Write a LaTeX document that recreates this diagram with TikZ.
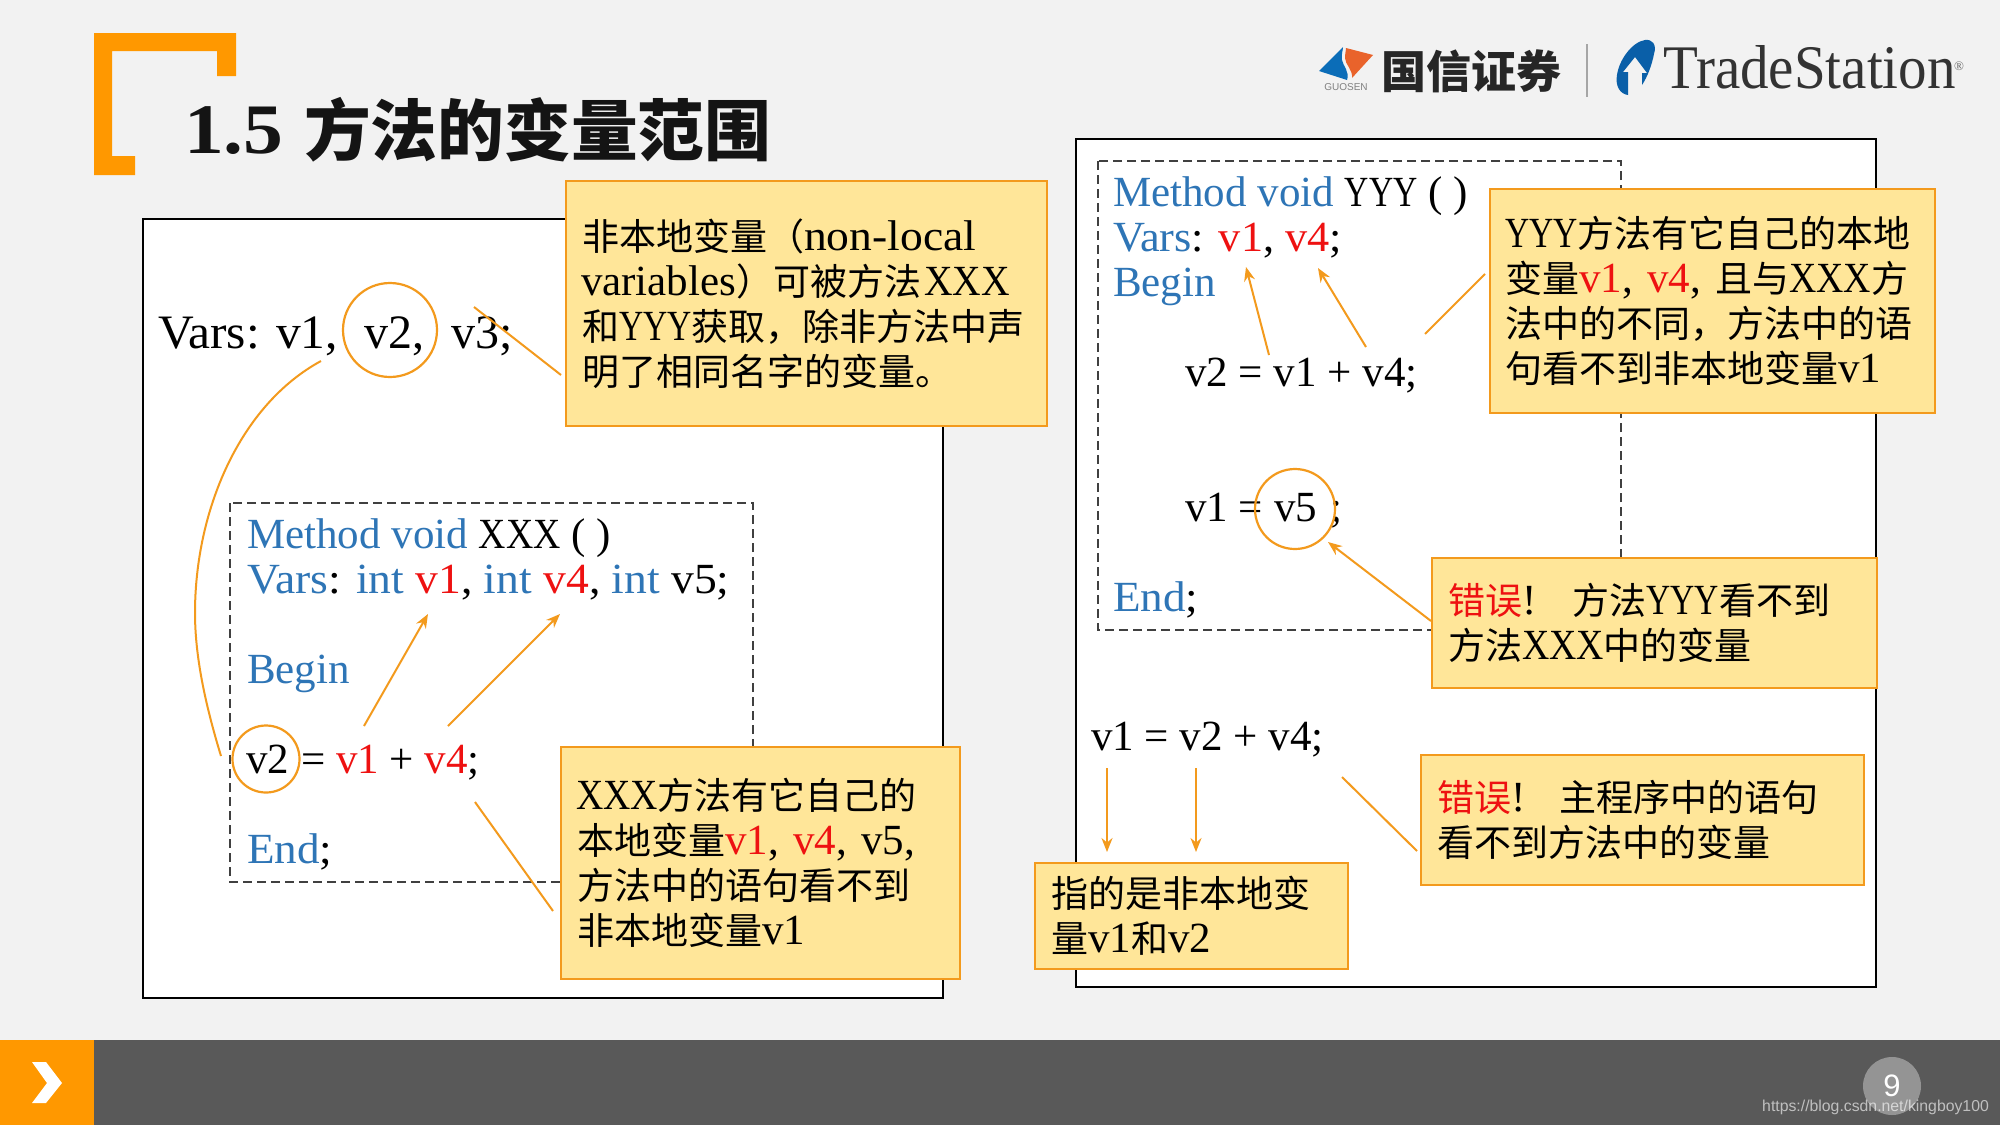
\documentclass[tikz,border=0pt]{standalone}
\usepackage{fontspec}
\usetikzlibrary{arrows.meta}
\setmainfont{Liberation Serif}
\newfontfamily\cjkbase{Noto Sans CJK SC}
\newfontfamily\lib{Liberation Sans}
\definecolor{bgc}{HTML}{F2F2F2}
\definecolor{org}{HTML}{FF9800}
\definecolor{lin}{HTML}{F39A1D}
\definecolor{cfill}{HTML}{FFE699}
\definecolor{kw}{HTML}{2E75B6}
\definecolor{rd}{HTML}{EE1111}
\definecolor{dk}{HTML}{404040}
\definecolor{lgb}{HTML}{0B6DB8}
\definecolor{lgo}{HTML}{E9632B}
\definecolor{lgt}{HTML}{0A5FA8}
\newcommand{\fs}[2]{\fontsize{#1}{#2}\selectfont}
\newcommand{\zh}[1]{{\cjkbase\fs{37}{45}#1}}
\newcommand{\kw}[1]{\textcolor{kw}{#1}}
\newcommand{\rd}[1]{\textcolor{rd}{#1}}
\newcommand{\tri}[1]{\scalebox{.88}[1]{#1}}
\newcommand{\trj}[1]{\scalebox{.78}[1]{#1}}
\tikzset{
  panel/.style={draw=black,line width=2pt,fill=white},
  dashbox/.style={draw=dk,line width=1.6pt,dash pattern=on 9pt off 5pt},
  code/.style={anchor=base west,inner sep=0pt,font=\fs{43}{46}},
  big/.style={anchor=base west,inner sep=0pt,font=\fs{48}{50}},
  ring/.style={draw=lin,line width=2.2pt,circle,inner sep=0pt},
  conn/.style={draw=lin,line width=2pt},
  arr/.style={conn,-{Stealth[length=14pt,width=11pt]}},
  callout/.style={draw=lin,line width=2pt,fill=cfill,anchor=north west,align=left,
    font=\fs{43}{45},inner xsep=0pt,inner ysep=0pt},
}
\begin{document}
\begin{tikzpicture}[x=1pt,y=-1pt]
\useasboundingbox (0,0) rectangle (2000,1125);
\fill[bgc] (0,0) rectangle (2000,1125);
% bracket
\fill[org] (94,33)--(236,33)--(236,76)--(217,76)--(217,51)--(112,51)--(112,156)--(135,156)--(135,175)--(94,175)--cycle;
\node[anchor=base west,inner sep=0pt,font=\fs{71}{72}\bfseries,text=black!92] (titlea) at (184,153) {\scalebox{1.12}[1]{1.5}};
\node[anchor=base west,inner sep=0pt,font=\cjkbase\fs{66.7}{70}\bfseries,text=black!92] (titleb) at (304,155) {方法的变量范围};
% logo
\fill[lgb] (1343,47)--(1319,71)--(1347,80) .. controls (1350,72) and (1343,66) .. (1342,60) .. controls (1341,55) and (1343,50) .. (1343,47)--cycle;
\fill[lgo] (1346,48)--(1373,55)--(1352,78) .. controls (1353,70) and (1345,64) .. (1345,58) .. controls (1345,54) and (1346,50) .. (1346,48)--cycle;
\node[inner sep=0pt,font=\lib\fs{10}{10},text=black!50] (gs) at (1346,87) {GUOSEN};
\node[inner sep=0pt,anchor=west,font=\cjkbase\bfseries\fs{45}{46},text=black!85] (gx) at (1381,71) {国信证券};
\draw[black!35,line width=1.5pt] (1587,44) -- (1587,97);
\fill[lgt] (1645,40) .. controls (1652,39) and (1657,44) .. (1654,54) .. controls (1652,64) and (1648,76) .. (1642,85) -- (1642,73) -- (1647,73) -- (1635,57) -- (1623,72) -- (1628,72) -- (1628,95) .. controls (1620,94) and (1615,86) .. (1617,75) .. controls (1619,60) and (1632,42) .. (1645,40) -- cycle;
\node[anchor=base west,inner sep=0pt,font=\fs{62}{64},text=black!80] (ts) at (1663,88) {\scalebox{0.92}[1]{TradeStation}};
\node[anchor=center,inner sep=0pt,font=\fs{13}{13},text=black!60] (reg) at (1959,66) {®};
% footer
\fill[black!65] (0,1040) rectangle (2000,1125);
\fill[org] (0,1040) rectangle (94,1125);
\fill[white] (32,1062)--(46,1062)--(62,1083)--(46,1103)--(32,1103)--(47,1083)--cycle;
\fill[black!42] (1892,1086) circle (29);
\node[inner sep=0pt,font=\lib\fs{31}{32},text=white] (pg) at (1892,1086) {9};
\node[anchor=base west,inner sep=0pt,font=\lib\fs{15.8}{18},text=white,opacity=.62] (url) at (1762,1111) {https://blog.csdn.net/kingboy100};
% left panel
\draw[panel] (143,219) rectangle (943,998);
\node[big] (v1a) at (158,348) {\scalebox{1.03}[1]{Vars: v1,}};
\node[big] (v2a) at (364,348) {v2,};
\node[big] (v3a) at (451,348) {v3;};
\node[ring,minimum size=94pt] (r1) at (390,330) {};
\draw[dashbox] (230,503) rectangle (753,882);
\node[code] (l1) at (247,548) {\kw{Method void} \tri{XXX} ( )};
\node[code] (l2) at (247,593) {\scalebox{1.06}[1]{\kw{Vars}: \kw{int} \rd{v1}, \kw{int} \rd{v4}, \kw{int} v5;}};
\node[code] (l3) at (247,683) {\kw{Begin}};
\node[code] (l4) at (246,773) {v2};
\node[code] (l5) at (301,773) {= \rd{v1} + \rd{v4};};
\node[code] (l6) at (247,863) {\scalebox{1.05}[1]{\kw{End};}};
\node[ring,minimum size=67pt] (r2) at (266,759) {};
\coordinate (cs) at (321,361);\coordinate (ce) at (221,756);
\draw[conn] (cs) .. controls (240,405) and (195,510) .. (195,613) .. controls (195,660) and (207,710) .. (ce);
\coordinate (a1s) at (364,726);\coordinate (a1e) at (428,614);
\coordinate (a2s) at (448,726);\coordinate (a2e) at (560,614);
\draw[arr] (a1s) -- (a1e);
\draw[arr] (a2s) -- (a2e);
\coordinate (b1s) at (474,307);\coordinate (b1e) at (561,375);
\draw[conn] (b1s) -- (b1e);
\coordinate (b2s) at (475,802);\coordinate (b2e) at (553,911);
\draw[conn] (b2s) -- (b2e);
% right panel
\draw[panel] (1076,139) rectangle (1876,987);
\draw[dashbox] (1098,161) rectangle (1621,630);
\node[code] (r1l) at (1113,206) {\kw{Method void} \trj{YYY} ( )};
\node[code] (r2l) at (1113,251) {\scalebox{1.03}[1]{\kw{Vars}: \rd{v1}, \rd{v4};}};
\node[code] (r3l) at (1113,296) {\kw{Begin}};
\node[code] (r4l) at (1185,386) {v2 = v1 + v4;};
\node[code] (r5l) at (1185,521) {v1 =};
\node[code] (r6l) at (1274,521) {v5};
\node[code] (r7l) at (1330,521) {;};
\node[code] (r8l) at (1113,611) {\scalebox{1.05}[1]{\kw{End};}};
\node[ring,minimum size=80pt] (r3) at (1295,509) {};
\node[code] (r9l) at (1091,750) {v1 = v2 + v4;};
\coordinate (c1s) at (1269,355);\coordinate (c1e) at (1246,267);
\coordinate (c2s) at (1366,347);\coordinate (c2e) at (1318,268);
\draw[arr] (c1s) -- (c1e);
\draw[arr] (c2s) -- (c2e);
\coordinate (c3s) at (1425,334);\coordinate (c3e) at (1485,274);
\draw[conn] (c3s) -- (c3e);
\coordinate (c4s) at (1431,621);\coordinate (c4e) at (1328,542);
\draw[arr] (c4s) -- (c4e);
\coordinate (d1s) at (1107,768);\coordinate (d1e) at (1107,852);
\coordinate (d2s) at (1196,768);\coordinate (d2e) at (1196,852);
\draw[arr] (d1s) -- (d1e);
\draw[arr] (d2s) -- (d2e);
\coordinate (d3s) at (1342,777);\coordinate (d3e) at (1417,851);
\draw[conn] (d3s) -- (d3e);
% callouts
\node[callout,minimum height=245pt,text width=481pt] (n1) at (565,180) {\hspace*{16pt}\zh{非本地变量（}\scalebox{1.06}[1]{non-local}\\\hspace*{15pt}variables\zh{）可被方法}\hspace{3pt}\scalebox{.92}[1]{XXX}\\\hspace*{16pt}\zh{和}\trj{YYY}\zh{获取，除非方法中声}\\\hspace*{16pt}\zh{明了相同名字的变量。}};
\node[callout,minimum height=232pt,text width=399pt] (n2) at (560,746) {\hspace*{15pt}\tri{XXX}\zh{方法有它自己的}\\\hspace*{16pt}\zh{本地变量}\rd{v1}, \rd{v4}, v5,\\\hspace*{16pt}\zh{方法中的语句看不到}\\\hspace*{16pt}\zh{非本地变量}v1};
\node[callout,minimum height=224pt,text width=445pt] (n3) at (1489,188) {\hspace*{15pt}\trj{YYY}\zh{方法有它自己的本地}\\\hspace*{15pt}\zh{变量}\rd{v1}, \rd{v4}, \zh{且与}\tri{XXX}\zh{方}\\\hspace*{15pt}\zh{法中的不同，方法中的语}\\\hspace*{15pt}\zh{句看不到非本地变量}v1};
\node[callout,minimum height=130pt,text width=445pt] (n4) at (1431,557) {\hspace*{16pt}\rd{\zh{错误}}!\hspace{36pt}\zh{方法}\trj{YYY}\zh{看不到}\\\hspace*{16pt}\zh{方法}\tri{XXX}\zh{中的变量}};
\node[callout,minimum height=130pt,text width=443pt] (n5) at (1420,754) {\hspace*{16pt}\rd{\zh{错误}}!\hspace{34pt}\zh{主程序中的语句}\\\hspace*{16pt}\zh{看不到方法中的变量}};
\node[callout,minimum height=106pt,text width=313pt] (n6) at (1034,862) {\hspace*{16pt}\zh{指的是非本地变}\\\hspace*{16pt}\zh{量}v1\zh{和}v2};
\end{tikzpicture}
\end{document}
